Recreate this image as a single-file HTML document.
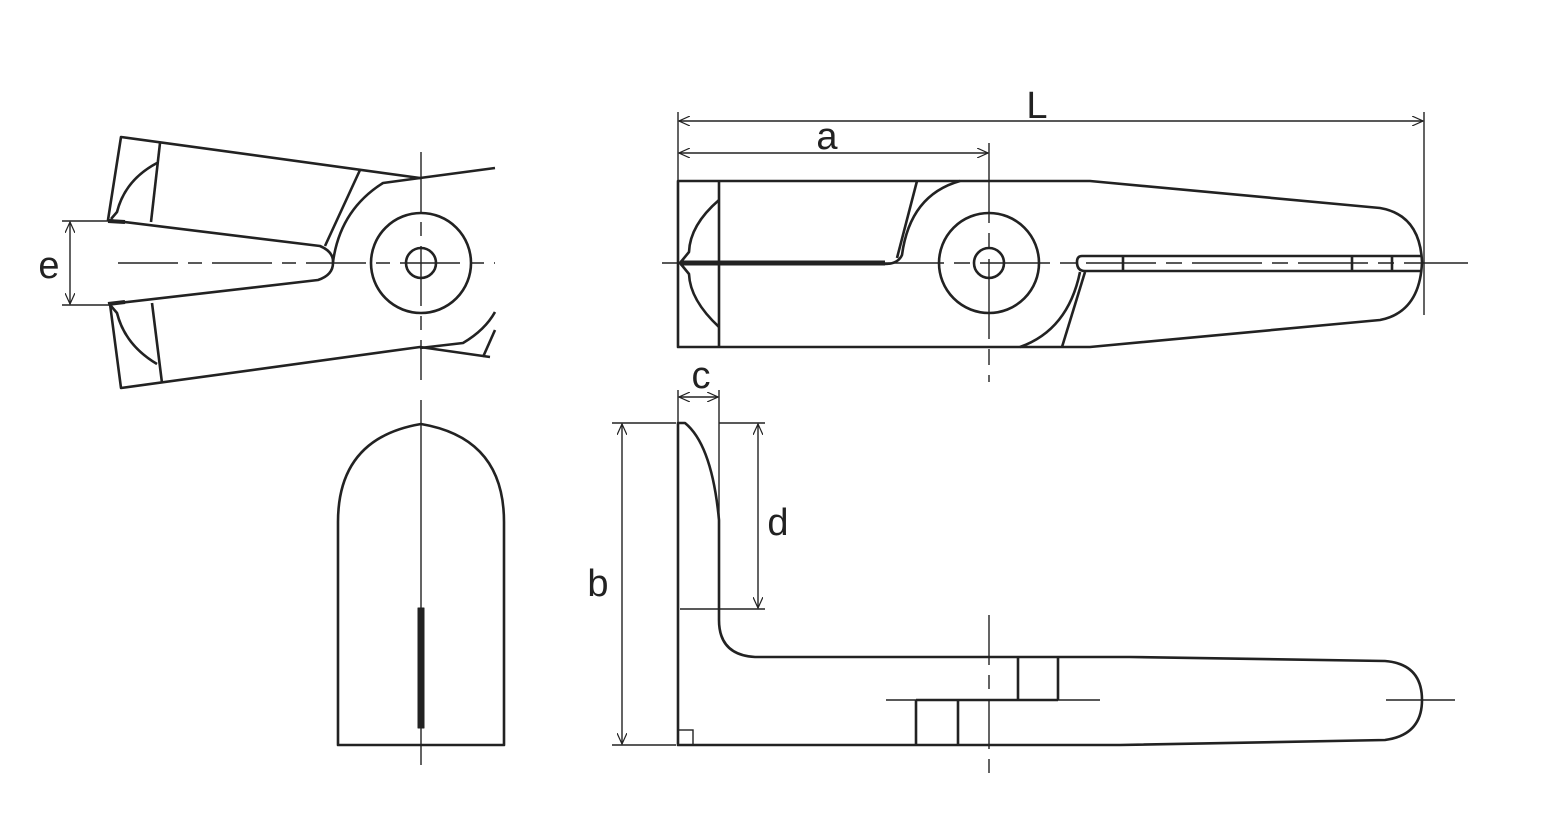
<!DOCTYPE html>
<html><head><style>html,body{margin:0;padding:0;background:#fff}svg{display:block}</style></head><body>
<svg width="1563" height="832" viewBox="0 0 1563 832" xmlns="http://www.w3.org/2000/svg">
<defs>
<marker id="ar" markerWidth="12" markerHeight="10" refX="11" refY="5" orient="auto-start-reverse" markerUnits="userSpaceOnUse">
<path d="M0,0 L11,5 L0,10" fill="none" stroke="#222" stroke-width="1.2"/></marker>
</defs>
<g fill="none" stroke="#222" stroke-width="2.6" stroke-linejoin="round">
<!-- top-left view -->
<path d="M495,168 L420,178 L121,137 L108,220 L320,246 Q334,252 333,263 Q333,275 318,280 L110,304 L121,388 L420,347 L490,357"/>
<line x1="160" y1="143" x2="151" y2="222"/>
<line x1="152" y1="303" x2="162" y2="383"/>
<path d="M157,163 Q125,180 117,212 L111,219"/>
<path d="M157,364 Q125,345 117,313 L111,306"/>
<line x1="360" y1="170" x2="325" y2="246"/>
<path d="M420,178 L383,183 Q340,210 333,262"/>
<path d="M420,348 L463,343 Q485,330 495,312"/>
<line x1="483" y1="357" x2="495" y2="330"/>
<circle cx="421" cy="263" r="50"/>
<circle cx="421" cy="263" r="15"/>
<path d="M108,221 L125,222 M108,304 L125,302" stroke-width="4"/>
<!-- front view -->
<path d="M678,181 L1090,181 L1380,208 Q1420,215 1422,262 Q1420,312 1380,320 L1090,347 L678,347 Z"/>
<line x1="719" y1="181" x2="719" y2="347"/>
<path d="M719,200 Q690,225 689,252 L680,263 L689,274 Q690,300 719,327"/>
<line x1="917" y1="181" x2="897" y2="258"/>
<path d="M960,181 Q910,195 902,255 Q898,264 885,264"/>
<line x1="680" y1="263" x2="885" y2="263" stroke-width="5"/>
<circle cx="989" cy="263" r="50"/>
<circle cx="989" cy="263" r="15"/>
<path d="M1422,256 L1082,256 Q1077,256 1077,262 Q1077,271 1085,271 L1422,271"/>
<line x1="1123" y1="256" x2="1123" y2="271"/>
<line x1="1352" y1="256" x2="1352" y2="271"/>
<line x1="1392" y1="256" x2="1392" y2="271"/>
<path d="M1080,272 Q1068,330 1020,347"/>
<line x1="1085" y1="272" x2="1062" y2="347"/>
<!-- bottom-left view -->
<path d="M338,745 L338,522 Q338,438 421,424 Q504,438 504,522 L504,745 Z"/>
<rect x="418" y="608" width="6" height="120" fill="#222" stroke-width="1"/>
<!-- side view -->
<path d="M678,423 L678,745 L1120,745 L1385,740 Q1422,735 1422,700 Q1422,664 1385,661 L1130,657 L755,657 Q719,655 719,620 L719,520 Q712,445 685,423 Z"/>
<line x1="1018" y1="657" x2="1018" y2="700"/>
<line x1="1058" y1="657" x2="1058" y2="700"/>
<line x1="916" y1="700" x2="916" y2="745"/>
<line x1="958" y1="700" x2="958" y2="745"/>
<line x1="916" y1="700" x2="1058" y2="700"/>
</g>
<g fill="none" stroke="#222" stroke-width="1.4">
<line x1="118" y1="263" x2="495" y2="263" stroke-dasharray="60,10,14,10"/>
<line x1="421" y1="152" x2="421" y2="380" stroke-dasharray="60,10,14,10"/>
<line x1="421" y1="400" x2="421" y2="765"/>
<line x1="662" y1="263" x2="1468" y2="263" stroke-dasharray="70,10,16,10"/>
<line x1="989" y1="143" x2="989" y2="382" stroke-dasharray="80,10,16,10"/>
<line x1="989" y1="615" x2="989" y2="783" stroke-dasharray="50,10,14,10"/>
<line x1="886" y1="700" x2="1100" y2="700"/>
<line x1="1386" y1="700" x2="1455" y2="700"/>
<rect x="678" y="730" width="15" height="15"/>
<!-- dims -->
<line x1="62" y1="221" x2="108" y2="221"/><line x1="62" y1="305" x2="108" y2="305"/>
<line x1="70" y1="222" x2="70" y2="304" marker-start="url(#ar)" marker-end="url(#ar)"/>
<line x1="678" y1="112" x2="678" y2="181"/><line x1="1424" y1="112" x2="1424" y2="315"/>
<line x1="679" y1="121" x2="1423" y2="121" marker-start="url(#ar)" marker-end="url(#ar)"/>
<line x1="679" y1="153" x2="988" y2="153" marker-start="url(#ar)" marker-end="url(#ar)"/>
<line x1="612" y1="423" x2="676" y2="423"/><line x1="612" y1="745" x2="676" y2="745"/>
<line x1="622" y1="424" x2="622" y2="744" marker-start="url(#ar)" marker-end="url(#ar)"/>
<line x1="719" y1="423" x2="765" y2="423"/><line x1="680" y1="609" x2="765" y2="609"/>
<line x1="758" y1="424" x2="758" y2="608" marker-start="url(#ar)" marker-end="url(#ar)"/>
<line x1="678" y1="390" x2="678" y2="423"/><line x1="719" y1="390" x2="719" y2="520"/>
<line x1="679" y1="397" x2="718" y2="397" marker-start="url(#ar)" marker-end="url(#ar)"/>
</g>
<g font-family="Liberation Sans, sans-serif" font-size="38" fill="#222" text-anchor="middle">
<text x="49" y="278">e</text>
<text x="1037" y="118">L</text>
<text x="827" y="149">a</text>
<text x="701" y="388">c</text>
<text x="778" y="535">d</text>
<text x="598" y="596">b</text>
</g>
</svg>
</body></html>
